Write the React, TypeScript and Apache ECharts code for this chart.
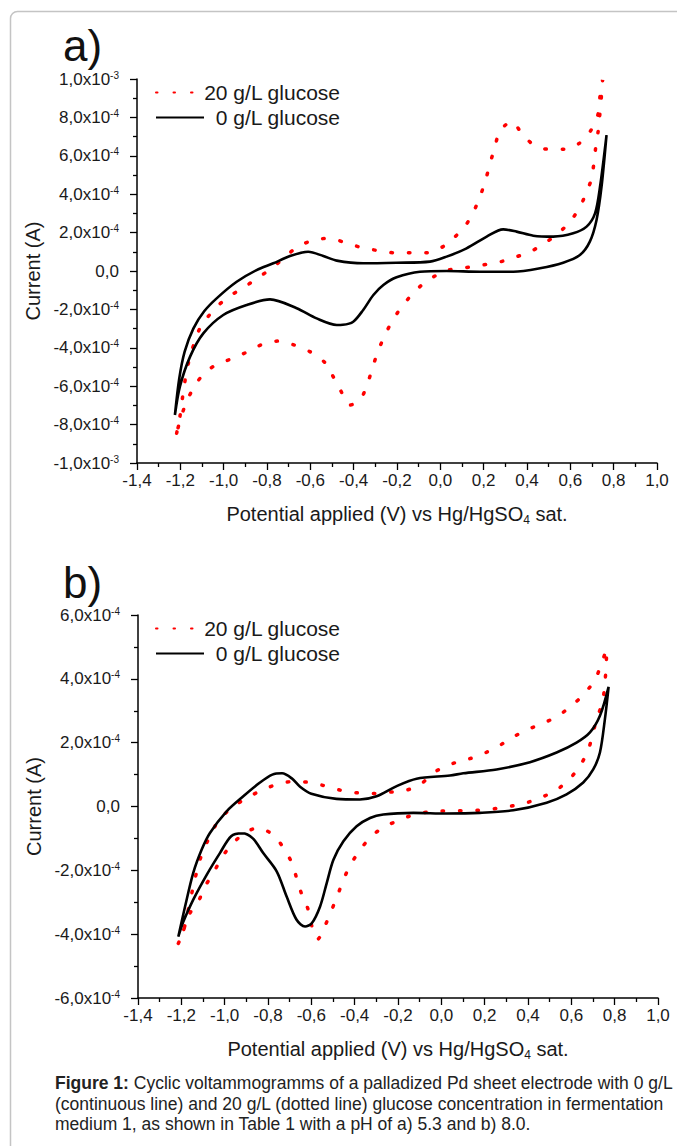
import React, { useEffect, useRef } from "react";
import * as echarts from "echarts";

// Potential (V) vs current (units of 1e-4 A), traced along the sweep
const glucose0A: [number, number][] = [
  [-1.225, -7.5], [-1.205, -5.6], [-1.18, -4.2], [-1.14, -3.0], [-1.09, -2.1], [-1.03, -1.4], [-0.94, -0.56],
  [-0.848, 0.05], [-0.771, 0.4], [-0.694, 0.78], [-0.61, 1.0], [-0.54, 0.78], [-0.478, 0.54],
  [-0.356, 0.4], [-0.202, 0.43], [-0.048, 0.49], [0.029, 0.75], [0.121, 1.18], [0.214, 1.79],
  [0.29, 2.17], [0.352, 2.05], [0.429, 1.84], [0.521, 1.79], [0.613, 1.96], [0.675, 2.31],
  [0.714, 3.0], [0.737, 4.39], [0.767, 7.08],
  [0.744, 4.39], [0.721, 2.66], [0.69, 1.53], [0.644, 0.83], [0.567, 0.43], [0.46, 0.14],
  [0.337, -0.04], [0.183, -0.04], [0.029, 0], [-0.094, -0.04], [-0.202, -0.33], [-0.263, -0.73],
  [-0.309, -1.25], [-0.356, -2.03], [-0.402, -2.64], [-0.45, -2.8], [-0.478, -2.81], [-0.571, -2.47],
  [-0.663, -1.94], [-0.786, -1.48], [-0.894, -1.77], [-1.002, -2.29], [-1.094, -3.25], [-1.155, -4.46],
  [-1.202, -6.02], [-1.225, -7.5],
];

const glucose20A: [number, number][] = [
  [-1.217, -8.45], [-1.202, -7.59], [-1.185, -6.2], [-1.163, -4.81], [-1.117, -3.16], [-1.078, -2.47],
  [-1.032, -1.86], [-0.971, -1.3], [-0.902, -0.82], [-0.84, -0.33], [-0.778, 0.14], [-0.725, 0.66],
  [-0.663, 1.22], [-0.586, 1.61], [-0.512, 1.7], [-0.44, 1.48], [-0.363, 1.22], [-0.286, 1.06],
  [-0.209, 0.95], [-0.132, 0.95], [-0.063, 0.95], [0.006, 1.23], [0.06, 1.7], [0.118, 2.4],
  [0.157, 3.18], [0.186, 3.96], [0.211, 4.83], [0.232, 5.69], [0.252, 6.47], [0.275, 7.29],
  [0.329, 7.78], [0.38, 7.1], [0.438, 6.51], [0.503, 6.34], [0.575, 6.34], [0.641, 6.65],
  [0.694, 7.31], [0.729, 8.21], [0.737, 9.11], [0.749, 9.95],
  [0.744, 9.17], [0.729, 7.34], [0.718, 6.51], [0.698, 4.83], [0.671, 4.01], [0.641, 3.26],
  [0.598, 2.57], [0.544, 1.96], [0.48, 1.44], [0.414, 1.0], [0.337, 0.69], [0.267, 0.45],
  [0.191, 0.31], [0.114, 0.17], [0.037, 0.05], [-0.025, -0.26], [-0.086, -0.73], [-0.14, -1.34],
  [-0.189, -2.03], [-0.232, -2.81], [-0.266, -3.59], [-0.294, -4.38], [-0.317, -5.19], [-0.34, -5.99],
  [-0.371, -6.72], [-0.417, -6.98], [-0.46, -6.23], [-0.497, -5.45], [-0.532, -4.78], [-0.602, -4.2],
  [-0.676, -3.85], [-0.748, -3.65], [-0.817, -3.8], [-0.889, -4.2], [-0.958, -4.55], [-1.029, -4.86],
  [-1.086, -5.28], [-1.136, -6.03], [-1.171, -6.81], [-1.197, -7.62], [-1.217, -8.45],
];

const glucose0B: [number, number][] = [
  [-1.214, -4.08], [-1.183, -3.14], [-1.145, -2.08], [-1.106, -1.35], [-1.068, -0.83], [-0.991, -0.15],
  [-0.914, 0.32], [-0.837, 0.75], [-0.78, 1.0], [-0.735, 1.04], [-0.69, 0.88], [-0.652, 0.62], [-0.6, 0.4],
  [-0.484, 0.24], [-0.376, 0.22], [-0.299, 0.32], [-0.206, 0.64], [-0.114, 0.87], [0.04, 0.97],
  [0.101, 1.04], [0.255, 1.16], [0.409, 1.39], [0.532, 1.69], [0.624, 2.0], [0.686, 2.32],
  [0.732, 2.84], [0.772, 3.75],
  [0.755, 2.74], [0.732, 1.69], [0.701, 1.16], [0.655, 0.75], [0.578, 0.38], [0.486, 0.12],
  [0.332, -0.12], [0.178, -0.2], [0.025, -0.22], [-0.129, -0.2], [-0.268, -0.25], [-0.329, -0.36],
  [-0.391, -0.62], [-0.452, -1.09], [-0.498, -1.67], [-0.529, -2.4], [-0.56, -3.14], [-0.598, -3.66],
  [-0.629, -3.76], [-0.668, -3.55], [-0.714, -2.82], [-0.76, -2.03], [-0.822, -1.46], [-0.87, -1.0],
  [-0.92, -0.84], [-0.97, -0.93], [-1.022, -1.46], [-1.083, -2.14], [-1.145, -2.92], [-1.191, -3.61],
  [-1.214, -4.08],
];

const glucose20B: [number, number][] = [
  [-1.214, -4.29], [-1.191, -3.92], [-1.168, -3.24], [-1.145, -2.51], [-1.114, -1.67], [-1.076, -1.04],
  [-1.03, -0.46], [-0.976, -0.09], [-0.906, 0.24], [-0.837, 0.48], [-0.76, 0.69], [-0.686, 0.78],
  [-0.614, 0.76], [-0.545, 0.66], [-0.465, 0.51], [-0.391, 0.43], [-0.314, 0.41], [-0.237, 0.45],
  [-0.168, 0.5], [-0.099, 0.68], [-0.045, 1.01], [-0.01, 1.16], [0.063, 1.37], [0.132, 1.5],
  [0.206, 1.69], [0.271, 1.92], [0.34, 2.21], [0.409, 2.44], [0.478, 2.63], [0.545, 2.87],
  [0.605, 3.18], [0.658, 3.52], [0.709, 3.97], [0.74, 4.5], [0.763, 4.94],
  [0.76, 4.31], [0.745, 3.31], [0.717, 2.74], [0.679, 1.79], [0.644, 1.32], [0.601, 0.93],
  [0.54, 0.56], [0.47, 0.31], [0.394, 0.12], [0.321, 0.01], [0.244, -0.07], [0.168, -0.12],
  [0.091, -0.13], [0.017, -0.14], [-0.06, -0.17], [-0.137, -0.28], [-0.206, -0.46], [-0.272, -0.67],
  [-0.329, -0.98], [-0.379, -1.4], [-0.422, -1.86], [-0.452, -2.3], [-0.48, -2.8], [-0.506, -3.24],
  [-0.537, -3.74], [-0.571, -4.16], [-0.598, -3.74], [-0.614, -3.24], [-0.645, -2.74], [-0.668, -2.24],
  [-0.691, -1.75], [-0.729, -1.3], [-0.772, -0.91], [-0.848, -0.67], [-0.906, -0.83], [-0.968, -1.19],
  [-1.014, -1.61], [-1.052, -2.08], [-1.091, -2.51], [-1.122, -2.98], [-1.16, -3.34], [-1.195, -3.97],
  [-1.214, -4.29],
];

const seriesNames = ["20 g/L glucose", "0 g/L glucose"];
const panelLabels = ["a)", "b)"];
const xAxisTitle = ["Potential applied (V) vs Hg/HgSO", "4", " sat."];
const yAxisTitle = "Current (A)";
const captionLines = [
  ["Figure 1:", " Cyclic voltammogramms of a palladized Pd sheet electrode with 0 g/L"],
  ["", "(continuous line) and 20 g/L (dotted line) glucose concentration in fermentation"],
  ["", "medium 1, as shown in Table 1 with a pH of a) 5.3 and b) 8.0."],
];

const FONT = "Liberation Sans, Arial, sans-serif";
const TXT = "#1a1a1a";

function yLabel(v: number): string {
  if (Math.abs(v) < 1e-9) return "{m|0,0}";
  const sign = v < 0 ? "-" : "";
  const a = Math.abs(v);
  if (Math.abs(a - 10) < 1e-6) return `{m|${sign}1,0x10}{s|-3}`;
  return `{m|${sign}${a.toFixed(1).replace(".", ",")}x10}{s|-4}`;
}

function xLabel(v: number): string {
  const r = Math.round(v * 10) / 10;
  return (Math.abs(r) < 1e-9 ? 0 : r).toFixed(1).replace(".", ",");
}

function makeX(gridIndex: number) {
  return {
    type: "value",
    gridIndex,
    min: -1.4,
    max: 1.0,
    interval: 0.2,
    name: `{n|${xAxisTitle[0]}}{d|${xAxisTitle[1]}}{n|${xAxisTitle[2]}}`,
    nameLocation: "middle",
    nameGap: 39,
    nameTextStyle: {
      rich: {
        n: { fontFamily: FONT, fontSize: 20, color: TXT, lineHeight: 24 },
        d: { fontFamily: FONT, fontSize: 12, color: TXT, lineHeight: 12, verticalAlign: "bottom" },
      },
    },
    axisLine: { onZero: false, lineStyle: { color: "#000", width: 1.5 } },
    axisTick: { inside: false, length: 7, lineStyle: { color: "#000", width: 1.3 } },
    minorTick: { show: true, splitNumber: 2, length: 4, lineStyle: { color: "#000", width: 1.3 } },
    splitLine: { show: false },
    axisLabel: { formatter: xLabel, fontFamily: FONT, fontSize: 17, color: TXT, margin: 9 },
  };
}

function makeY(gridIndex: number, lim: number) {
  return {
    type: "value",
    gridIndex,
    min: -lim,
    max: lim,
    interval: 2,
    name: yAxisTitle,
    nameLocation: "middle",
    nameGap: 87,
    nameRotate: 90,
    nameTextStyle: { fontFamily: FONT, fontSize: 20, color: TXT },
    axisLine: { onZero: false, lineStyle: { color: "#000", width: 1.5 } },
    axisTick: { inside: false, length: 7, lineStyle: { color: "#000", width: 1.3 } },
    minorTick: { show: true, splitNumber: 2, length: 4, lineStyle: { color: "#000", width: 1.3 } },
    splitLine: { show: false },
    axisLabel: {
      formatter: yLabel,
      margin: 18,
      rich: {
        m: { fontFamily: FONT, fontSize: 17, color: TXT, lineHeight: 18 },
        s: { fontFamily: FONT, fontSize: 10, color: TXT, lineHeight: 10, verticalAlign: "top" },
      },
    },
  };
}

const redStyle = { color: "#ff0000", width: 3.5, type: [1.5, 16], cap: "round" };
const blackStyle = { color: "#000000", width: 2.6, type: "solid" };

function makeSeries(name: string, data: [number, number][], idx: number, style: any) {
  return {
    type: "line",
    name,
    xAxisIndex: idx,
    yAxisIndex: idx,
    data,
    symbol: "none",
    smooth: 0.3,
    lineStyle: style,
    itemStyle: { color: style.color },
    z: name === seriesNames[1] ? 3 : 2,
  };
}

function makeLegend(top: number) {
  return {
    orient: "vertical",
    left: 150,
    top,
    itemWidth: 48,
    itemHeight: 14,
    itemGap: 4,
    data: seriesNames,
    selectedMode: false,
    itemStyle: { opacity: 0, borderWidth: 0 },
    formatter: (n: string) => `{t|${n}}`,
    textStyle: {
      rich: { t: { width: 131, align: "right", fontFamily: FONT, fontSize: 21, color: TXT, lineHeight: 21 } },
    },
  };
}

export default function App() {
  const ref = useRef<HTMLDivElement>(null);
  useEffect(() => {
    if (!ref.current) return;
    const chart = echarts.init(ref.current, null, { renderer: "svg" });
    const captionGraphics = captionLines.map((ln, i) => ({
      type: "text",
      left: 55,
      top: 1074 + i * 20.5,
      style: {
        text: ln[0] ? `{b|${ln[0]}}{r|${ln[1]}}` : `{r|${ln[1]}}`,
        rich: {
          b: { fontFamily: FONT, fontSize: 17.5, fontWeight: "bold", fill: "#222" },
          r: { fontFamily: FONT, fontSize: 17.5, fill: "#222" },
        },
      },
    }));
    chart.setOption({
      animation: false,
      backgroundColor: "#ffffff",
      grid: [
        { left: 137, top: 79, width: 520, height: 384 },
        { left: 138, top: 615, width: 520, height: 383 },
      ],
      xAxis: [makeX(0), makeX(1)],
      yAxis: [makeY(0, 10), makeY(1, 6)],
      legend: [makeLegend(77), makeLegend(613)],
      series: [
        makeSeries(seriesNames[0], glucose20A, 0, redStyle),
        makeSeries(seriesNames[1], glucose0A, 0, blackStyle),
        makeSeries(seriesNames[0], glucose20B, 1, redStyle),
        makeSeries(seriesNames[1], glucose0B, 1, blackStyle),
      ],
      graphic: [
        {
          type: "rect",
          shape: { x: 10.5, y: 11.5, width: 720, height: 1200, r: 7 },
          style: { fill: "none", stroke: "#c4c4c4", lineWidth: 1.5 },
          silent: true,
        },
        {
          type: "text",
          left: 63,
          top: 23,
          style: { text: panelLabels[0], fontFamily: FONT, fontSize: 44, fill: "#111" },
        },
        {
          type: "text",
          left: 63,
          top: 560,
          style: { text: panelLabels[1], fontFamily: FONT, fontSize: 44, fill: "#111" },
        },
        ...captionGraphics,
      ],
    });
    return () => chart.dispose();
  }, []);
  return <div ref={ref} style={{ position: "absolute", left: 0, top: 0, width: 677, height: 1146 }} />;
}
